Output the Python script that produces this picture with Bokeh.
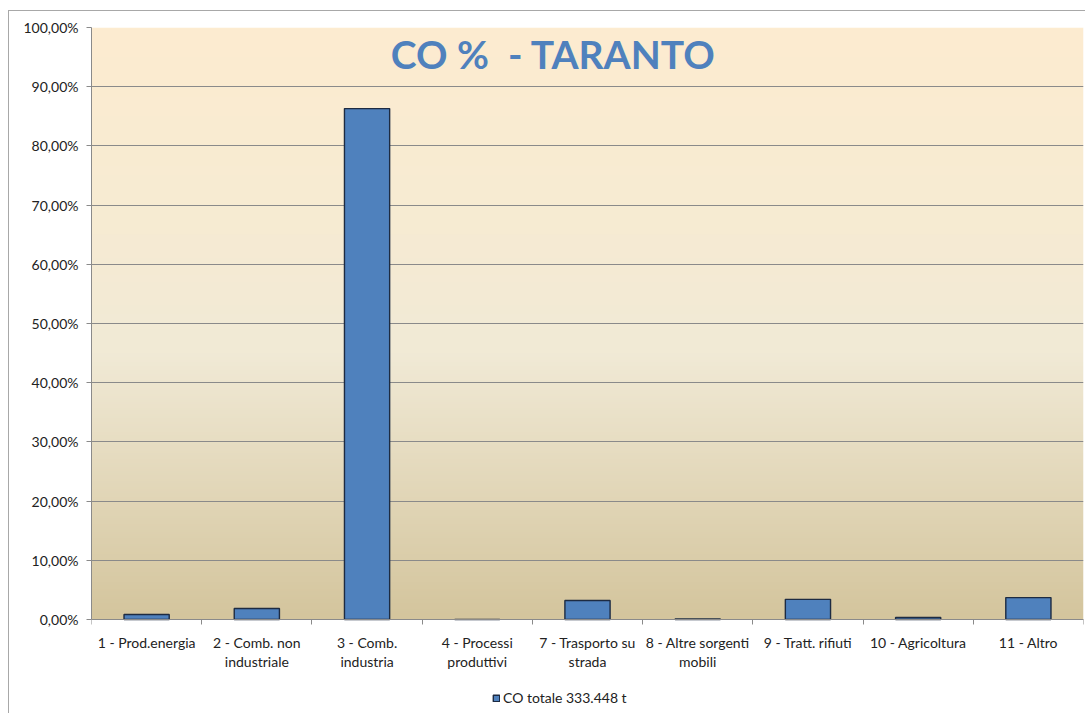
import numpy as np
from bokeh.plotting import figure
from bokeh.models import Range1d, FixedTicker, Label, Legend, LegendItem
from bokeh.embed import file_html
from bokeh.resources import INLINE

# ---- data ----
categories = [
    "1 - Prod.energia",
    "2 - Comb. non\nindustriale",
    "3 - Comb.\nindustria",
    "4 - Processi\nproduttivi",
    "7 - Trasporto su\nstrada",
    "8 - Altre sorgenti\nmobili",
    "9 - Tratt. rifiuti",
    "10 - Agricoltura",
    "11 - Altro",
]
co_percent = [0.85, 1.86, 86.3, 0.0, 3.2, 0.1, 3.4, 0.35, 3.7]
y_ticks = [0, 10, 20, 30, 40, 50, 60, 70, 80, 90, 100]
y_tick_labels = ["0,00%", "10,00%", "20,00%", "30,00%", "40,00%", "50,00%",
                 "60,00%", "70,00%", "80,00%", "90,00%", "100,00%"]
series_name = "CO totale 333.448 t"
title_text = "CO %\u00a0\u00a0- TARANTO"

# ---- styling ----
FONT = "Lato"
BAR_COLOR = "#4F81BD"
BAR_LINE = "#1d2b42"
GRID_COLOR = "#8a8a8a"
TEXT_COLOR = "#222222"

n = len(categories)
centers = list(np.arange(n) + 0.5)
boundaries = list(np.arange(n + 1).astype(float))

# layout: plot area 0..100% spans 592 px; extra 95 px below 0 hold labels + legend
PX_PER_UNIT = 592 / 100.0
y_low = -95 / PX_PER_UNIT

p = figure(width=1077, height=703, output_backend="svg", toolbar_location=None,
           x_range=Range1d(0, n), y_range=Range1d(y_low, 100))
p.min_border_left = 82
p.min_border_right = 3
p.min_border_top = 16
p.min_border_bottom = 0
p.background_fill_color = "white"
p.border_fill_color = "white"
p.outline_line_color = None

# gradient background of the plot area
stops = [(0.0, (212, 197, 157)), (0.45, (241, 234, 214)),
         (0.65, (246, 235, 211)), (1.0, (253, 236, 208))]
H = 300
fr = np.linspace(0, 1, H)
pos = [s[0] for s in stops]
cols = np.array([s[1] for s in stops], dtype=float)
rgb = np.stack([np.interp(fr, pos, cols[:, k]) for k in range(3)], axis=1)
img = np.empty((H, 2), dtype=np.uint32)
view = img.view(dtype=np.uint8).reshape((H, 2, 4))
for c in range(2):
    view[:, c, 0] = rgb[:, 0].astype(np.uint8)
    view[:, c, 1] = rgb[:, 1].astype(np.uint8)
    view[:, c, 2] = rgb[:, 2].astype(np.uint8)
    view[:, c, 3] = 255
p.image_rgba(image=[img], x=0, y=0, dw=n, dh=100, level="image")

# bars
r = p.vbar(x=centers, top=co_percent, width=0.41, fill_color=BAR_COLOR,
           line_color=BAR_LINE, line_width=1.4)

# title inside plot
p.add_layout(Label(x=4.19, y=95.6, text=title_text, text_font=FONT,
                   text_font_style="bold", text_font_size="39px",
                   text_color=BAR_COLOR, text_align="center",
                   text_baseline="middle"))

# grid
p.xgrid.visible = False
p.ygrid.ticker = FixedTicker(ticks=y_ticks)
p.ygrid.grid_line_color = GRID_COLOR
p.ygrid.grid_line_width = 1

# y axis
ya = p.yaxis[0]
ya.ticker = FixedTicker(ticks=y_ticks)
ya.bounds = (0, 100)
ya.major_label_overrides = {t: l for t, l in zip(y_ticks, y_tick_labels)}
ya.axis_line_color = GRID_COLOR
ya.major_tick_line_color = GRID_COLOR
ya.major_tick_out = 5
ya.major_tick_in = 0
ya.minor_tick_line_color = None
ya.major_label_standoff = 8
ya.major_label_text_font = FONT
ya.major_label_text_font_size = "14px"
ya.major_label_text_color = TEXT_COLOR

# x axis at y = 0: labels at centres, ticks at boundaries
xa = p.xaxis[0]
xa.fixed_location = 0
xa.ticker = FixedTicker(ticks=centers, minor_ticks=boundaries)
xa.major_label_overrides = {c: l for c, l in zip(centers, categories)}
xa.axis_line_color = GRID_COLOR
xa.major_tick_line_color = None
xa.major_tick_out = 0
xa.major_tick_in = 0
xa.minor_tick_line_color = GRID_COLOR
xa.minor_tick_out = 5
xa.minor_tick_in = 0
xa.major_label_standoff = 9
xa.major_label_text_font = FONT
xa.major_label_text_font_size = "14px"
xa.major_label_text_color = TEXT_COLOR
xa.major_label_text_line_height = 1.15

# legend under the category labels
legend = Legend(items=[LegendItem(label=series_name, renderers=[r])],
                location=(401, 8), orientation="horizontal",
                padding=0, margin=0, glyph_width=8, glyph_height=8,
                label_standoff=3, border_line_color=None,
                background_fill_alpha=0,
                label_text_font=FONT, label_text_font_size="14px",
                label_text_color=TEXT_COLOR)
p.add_layout(legend, "center")

p.styles = {"margin-left": "8px", "margin-top": "10px",
            "border-left": "1px solid #a8a8a8", "border-top": "1px solid #a8a8a8"}

open("out.html", "w").write(file_html(p, INLINE))
